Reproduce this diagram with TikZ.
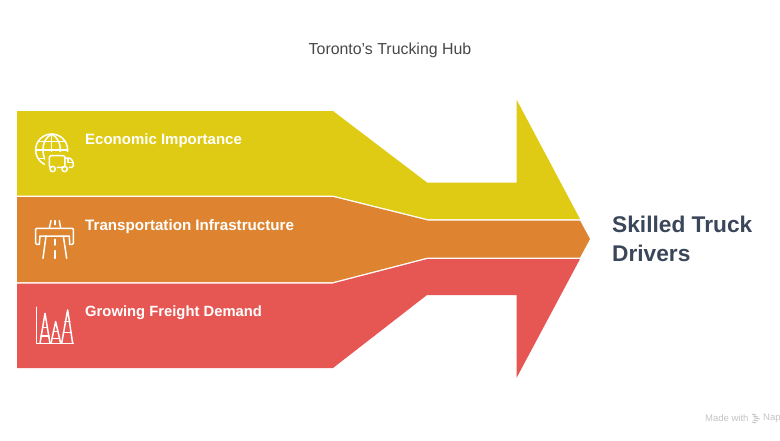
\documentclass[tikz,border=0pt]{standalone}
\usepackage{fontspec}
\setmainfont{Liberation Sans}
\definecolor{bandyellow}{HTML}{DFCB14}
\definecolor{bandorange}{HTML}{DE8431}
\definecolor{bandred}{HTML}{E65754}
\definecolor{darkslate}{HTML}{3A4659}
\definecolor{titlegray}{HTML}{484848}
\definecolor{markgray}{HTML}{C4C4C4}
\tikzset{
  bandlabel/.style = {anchor = west, inner sep = 0pt, text = white, font = \fontsize{15}{18}\selectfont\bfseries},
  iconline/.style = {draw = white, line width = 1.5pt, line cap = round, line join = round},
}
\begin{document}
\begin{tikzpicture}[x = 1pt, y = -1pt]
    \useasboundingbox (0,0) rectangle (780,440);
    \fill[white] (0,0) rectangle (780,440);
%% the three bands
    \fill[bandyellow] (17,111) -- (333,111) -- (427,182.5) -- (516.5,182.5) -- (516.5,99.5) -- (580,219) -- (427.5,219) -- (333,195.5) -- (17,195.5) -- cycle;
    \fill[bandorange] (17,197) -- (333,197) -- (427.5,220.5) -- (580,220.5) -- (590,239) -- (580,257.5) -- (427.5,257.5) -- (333,282) -- (17,282) -- cycle;
    \fill[bandred] (17,283.5) -- (333,283.5) -- (427.5,259) -- (580,259) -- (516.5,378) -- (516.5,295) -- (427,295) -- (333,368) -- (17,368) -- cycle;
%% texts
    \node[anchor = center, text = titlegray, font = \fontsize{15.9}{18}\selectfont] (title) at (390,50) {Toronto's Trucking Hub};
    \node[bandlabel] (economic) at (85,141) {Economic Importance};
    \node[bandlabel, font = \fontsize{15.15}{18}\selectfont\bfseries] (transport) at (85,227) {Transportation Infrastructure};
    \node[bandlabel, font = \fontsize{14.8}{18}\selectfont\bfseries] (freight) at (85,313) {Growing Freight Demand};
    \node[anchor = west, align = left, inner sep = 0pt, text = darkslate, font = \fontsize{22.7}{29}\selectfont\bfseries] (drivers) at (612,239) {Skilled Truck\\Drivers};
    \node[anchor = west, inner sep = 0pt, text = markgray, font = \fontsize{9.5}{11}\selectfont] (madewith) at (705,418) {Made with};
    \node[anchor = west, inner sep = 0pt, text = markgray, font = \fontsize{9.5}{11}\selectfont] (nap) at (763,418) {Nap};
    \foreach \yy/\xa/\xb in {414/752/756,416/753/758,418/754/760,420/753/758,422/752/756}
        \draw[markgray, line width = 0.9pt] (\xa,\yy) -- (\xb,\yy + 1);
%% globe and truck
    \begin{scope}[shift = {(20,120)}, x = 0.3333pt, y = -0.3333pt]
        \draw[iconline] (95,90) circle (48);
        \draw[iconline] (95,42) .. controls (60,60) and (60,120) .. (95,138);
        \draw[iconline] (95,42) .. controls (130,60) and (130,120) .. (95,138);
        \draw[iconline] (95,42) -- (95,138);
        \draw[iconline] (47,90) -- (143,90);
        \draw[iconline] (56,64) -- (134,64);
        \draw[iconline] (56,116) -- (134,116);
        \fill[bandyellow] (75,97) rectangle (170,165);
        \draw[iconline, rounded corners = 1.5pt] (90,142) -- (88,142) -- (88,107) -- (135,107) -- (135,142) -- (112,142);
        \draw[iconline, rounded corners = 1.5pt] (135,114) -- (152,114) -- (160,128) -- (160,142) -- (148,142);
        \draw[iconline] (144,116) -- (144,128) -- (160,128);
        \draw[iconline] (98,147) circle (8);
        \draw[iconline] (134,147) circle (8);
    \end{scope}
%% road under a bridge
    \begin{scope}[shift = {(20,210)}, x = 0.3333pt, y = -0.3333pt]
        \draw[iconline, rounded corners = 1pt] (58,103) -- (47,103) -- (47,55) -- (160,55) -- (160,103) -- (149,103);
        \draw[iconline] (58,103) -- (60,78) -- (148,78) -- (149,103);
        \draw[iconline] (93,32) -- (88,55);
        \draw[iconline] (118,32) -- (122,55);
        \draw[iconline] (78,78) -- (69,145);
        \draw[iconline] (130,78) -- (140,145);
        \draw[iconline] (105,32) -- (105,44);
        \draw[iconline] (105,88) -- (105,105);
        \draw[iconline] (105,122) -- (105,145);
    \end{scope}
%% rising peaks on axes
    \begin{scope}[shift = {(20,210)}, x = 0.3333pt, y = -0.3333pt]
        \draw[iconline] (50,292) -- (50,400) -- (160,400);
        \draw[iconline] (60,400) -- (75,310) -- (90,400);
        \draw[iconline] (93,400) -- (107,335) -- (122,400);
        \draw[iconline] (125,400) -- (143,300) -- (158,400);
        \foreach \xa/\xb/\yy in {68/82/352,63/87/378,100/114/365,97/118/385,135/150/335,130/154/368}
            \draw[iconline] (\xa,\yy) -- (\xb,\yy);
    \end{scope}
\end{tikzpicture}
\end{document}
